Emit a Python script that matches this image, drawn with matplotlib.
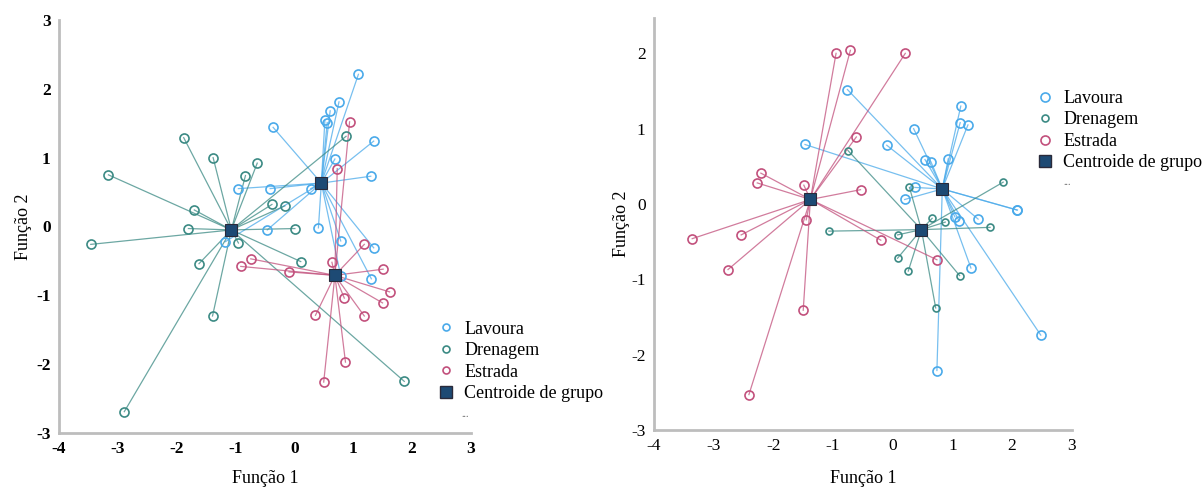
"""Canonical discriminant functions - two analyses side by side"""
import matplotlib.pyplot as plt
from matplotlib.lines import Line2D

plt.rcParams['font.family'] = ['Liberation Serif', 'DejaVu Serif']

GROUPS = ['Lavoura', 'Drenagem', 'Estrada']
COLORS = {'Lavoura': '#4aaaea', 'Drenagem': '#3b8a84', 'Estrada': '#c2507c'}
CENT_FACE = '#1d4a74'

# ---- left panel ----
lav1_x = [1.09, 0.76, 0.61, 0.52, 0.56, -0.36, 1.35, 0.69, 1.30, -0.95, -0.41, 0.28, 0.41, -0.46, 0.79, 1.35, 1.31, -1.17, 0.79]
lav1_y = [2.21, 1.81, 1.68, 1.54, 1.51, 1.44, 1.24, 0.98, 0.73, 0.55, 0.55, 0.55, -0.02, -0.05, -0.21, -0.31, -0.76, -0.22, -0.72]
dre1_x = [-1.88, -1.38, -0.63, -0.83, -3.16, -1.70, -0.38, -0.16, -1.80, 0.01, -3.46, -0.95, -1.62, 0.11, -1.39, -2.89, 1.87, 0.88]
dre1_y = [1.29, 1.00, 0.92, 0.74, 0.75, 0.24, 0.32, 0.30, -0.03, -0.03, -0.26, -0.24, -0.54, -0.51, -1.30, -2.69, -2.25, 1.31]
est1_x = [0.94, 0.73, 1.19, 0.64, -0.74, -0.91, -0.09, 1.51, 1.62, 1.50, 0.85, 1.19, 0.36, 0.87, 0.50]
est1_y = [1.52, 0.84, -0.26, -0.52, -0.47, -0.58, -0.66, -0.62, -0.95, -1.11, -1.04, -1.30, -1.29, -1.97, -2.26]
cent1_x = [0.46, -1.07, 0.69]
cent1_y = [0.63, -0.05, -0.71]

# ---- right panel ----
lav2_x = [-0.76, -1.47, -0.10, 0.35, 0.54, 0.64, 0.93, 1.14, 1.13, 1.26, 0.37, 0.20, 1.04, 1.11, 1.43, 2.09, 2.08, 1.31, 2.48, 0.74]
lav2_y = [1.52, 0.79, 0.78, 1.00, 0.59, 0.56, 0.60, 1.30, 1.08, 1.05, 0.22, 0.06, -0.17, -0.22, -0.20, -0.08, -0.08, -0.85, -1.74, -2.21]
dre2_x = [-0.75, 0.28, 1.85, 0.66, 0.88, 1.63, -1.07, 0.08, 0.08, 0.26, 1.12, 0.72]
dre2_y = [0.71, 0.22, 0.29, -0.19, -0.24, -0.31, -0.36, -0.41, -0.72, -0.89, -0.95, -1.38]
est2_x = [-0.95, -0.71, 0.21, -0.61, -2.21, -2.27, -1.49, -0.54, -1.45, -3.36, -2.54, -2.76, -0.20, 0.74, -1.50, -2.41]
est2_y = [2.00, 2.04, 2.00, 0.89, 0.41, 0.28, 0.25, 0.19, -0.21, -0.46, -0.41, -0.87, -0.48, -0.74, -1.41, -2.53]
cent2_x = [0.83, 0.48, -1.38]
cent2_y = [0.20, -0.34, 0.06]

XTICKS = [-4, -3, -2, -1, 0, 1, 2, 3]
YTICKS = [-3, -2, -1, 0, 1, 2, 3]


def draw_panel(ax, pts, cx, cy, msizes, bold, xpad, ypad):
    # lines from each case to its group centroid
    for g, (xs, ys), mx, my in zip(GROUPS, pts, cx, cy):
        for x, y in zip(xs, ys):
            ax.plot([mx, x], [my, y], color=COLORS[g], lw=0.9, alpha=0.75, zorder=1)
    for g, (xs, ys) in zip(GROUPS, pts):
        ax.plot(xs, ys, 'o', mfc='none', mec=COLORS[g], mew=1.2, ms=msizes[g], zorder=2)
    ax.plot(cx, cy, 's', mfc=CENT_FACE, mec='#2a2a3a', mew=0.8, ms=9, zorder=3)

    for s in ['top', 'right']:
        ax.spines[s].set_visible(False)
    for s in ['left', 'bottom']:
        ax.spines[s].set_color('#bdbdbd')
        ax.spines[s].set_linewidth(2)
    ax.set_xticks(XTICKS)
    ax.set_yticks(YTICKS)
    ax.set_xticklabels([str(t) for t in XTICKS])
    ax.set_yticklabels([str(t) for t in YTICKS])
    ax.tick_params(length=0, pad=6, labelsize=12.5)
    for lab in ax.get_xticklabels() + ax.get_yticklabels():
        lab.set_fontweight('bold' if bold else 'normal')
    ax.set_xlabel('Função 1', fontsize=13, labelpad=xpad)
    ax.set_ylabel('Função 2', fontsize=13, labelpad=ypad)


def add_legend(fig, x, y, msizes):
    handles = [Line2D([], [], ls='none', marker='o', mfc='none', mec=COLORS[g], mew=1.2, ms=msizes[g])
               for g in GROUPS]
    handles.append(Line2D([], [], ls='none', marker='s', mfc=CENT_FACE, mec='#2a2a3a', ms=9))
    leg = fig.legend(handles, GROUPS + ['Centroide de grupo'], loc='upper left',
                     bbox_to_anchor=(x, y), frameon=False, fontsize=13, borderpad=0,
                     handlelength=0.8, handletextpad=0.6, labelspacing=0.25)
    return leg


fig = plt.figure(figsize=(12.04, 4.9), dpi=100)

ax1 = fig.add_axes([0.049, 0.1163, 0.342, 0.843])
draw_panel(ax1, [(lav1_x, lav1_y), (dre1_x, dre1_y), (est1_x, est1_y)],
           cent1_x, cent1_y, {'Lavoura': 6.5, 'Drenagem': 6.5, 'Estrada': 6.5}, True, 9, 3)
ax1.set_xlim(-4, 3)
ax1.set_ylim(-3, 3)

ax2 = fig.add_axes([0.5432, 0.1224, 0.347, 0.841])
draw_panel(ax2, [(lav2_x, lav2_y), (dre2_x, dre2_y), (est2_x, est2_y)],
           cent2_x, cent2_y, {'Lavoura': 6.5, 'Drenagem': 5, 'Estrada': 6.5}, False, 11, 1)
ax2.set_xlim(-4, 3)
ax2.set_ylim(-3, 2.47)

add_legend(fig, 0.3573, 0.364, {'Lavoura': 5, 'Drenagem': 5, 'Estrada': 5})
fig.text(0.383, 0.148, '...', fontsize=7, color='#555555')
add_legend(fig, 0.8545, 0.835, {'Lavoura': 6.5, 'Drenagem': 5, 'Estrada': 6.5})
fig.text(0.883, 0.622, '...', fontsize=7, color='#555555')

fig.savefig('out.png', dpi=100)
